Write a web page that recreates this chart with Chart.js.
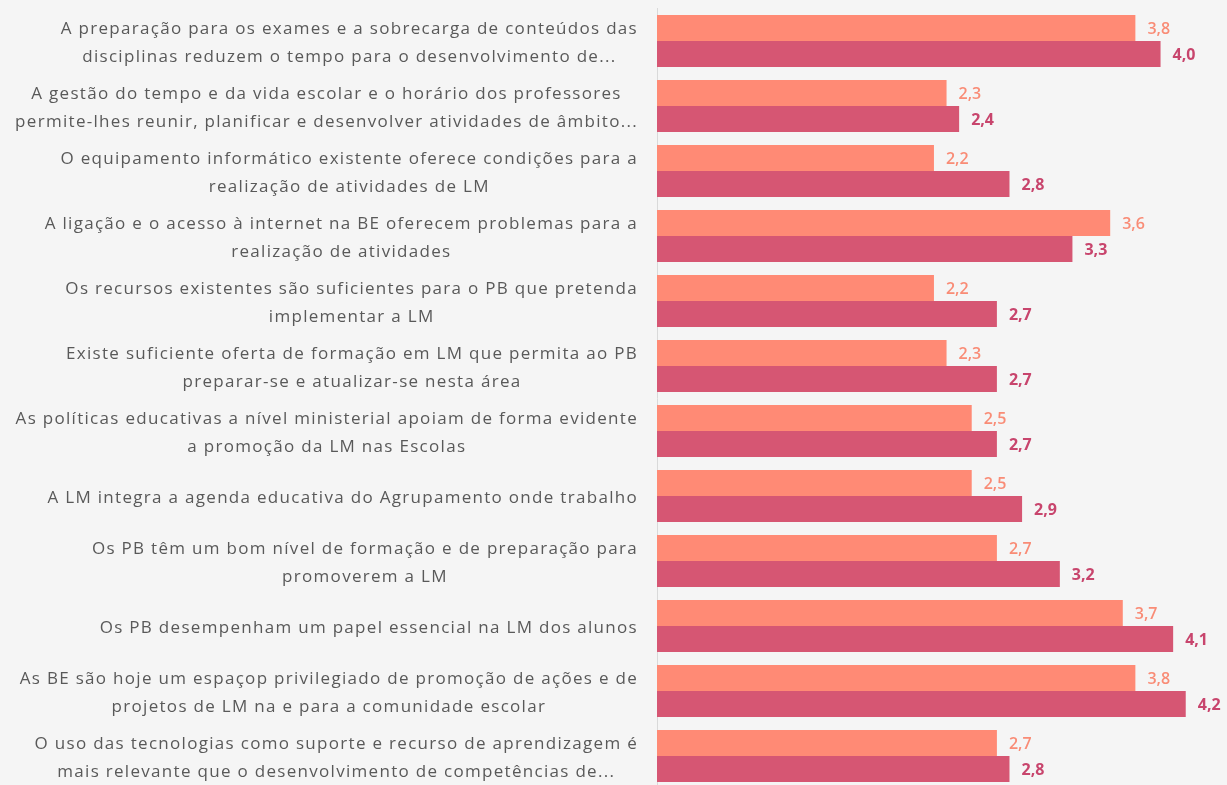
<!DOCTYPE html>
<html>
<head>
<meta charset="utf-8">
<script src="https://cdn.jsdelivr.net/npm/chart.js@4"></script>
<style>
    html, body { margin: 0; padding: 0; background: #f5f5f5; overflow: hidden; }
    #wrap { width: 1227px; height: 800px; position: relative; }
</style>
</head>
<body>
<div id="wrap"><canvas id="barChart"></canvas></div>
<script>
const categories = [
    ["A preparação para os exames e a sobrecarga de conteúdos das", "disciplinas reduzem o tempo para o desenvolvimento de..."],
    ["A gestão do tempo e da vida escolar e o horário dos professores", "permite-lhes reunir, planificar e desenvolver atividades de âmbito..."],
    ["O equipamento informático existente oferece condições para a", "realização de atividades de LM"],
    ["A ligação e o acesso à internet na BE oferecem problemas para a", "realização de atividades"],
    ["Os recursos existentes são suficientes para o PB que pretenda", "implementar a LM"],
    ["Existe suficiente oferta de formação em LM que permita ao PB", "preparar-se e atualizar-se nesta área"],
    ["As políticas educativas a nível ministerial apoiam de forma evidente", "a promoção da LM nas Escolas"],
    ["A LM integra a agenda educativa do Agrupamento onde trabalho"],
    ["Os PB têm um bom nível de formação e de preparação para", "promoverem a LM"],
    ["Os PB desempenham um papel essencial na LM dos alunos"],
    ["As BE são hoje um espaçop privilegiado de promoção de ações e de", "projetos de LM na e para a comunidade escolar"],
    ["O uso das tecnologias como suporte e recurso de aprendizagem é", "mais relevante que o desenvolvimento de competências de..."]
];
const series1 = [3.8, 2.3, 2.2, 3.6, 2.2, 2.3, 2.5, 2.5, 2.7, 3.7, 3.8, 2.7];
const series2 = [4.0, 2.4, 2.8, 3.3, 2.7, 2.7, 2.7, 2.9, 3.2, 4.1, 4.2, 2.8];

const colors = ['#ff8a75', '#d65673'];
const labelColors = ['#f98c76', '#c8456d'];

// category labels: each block right-aligned, lines centred inside it
const categoryLabels = {
    id: 'categoryLabels',
    afterDraw(chart) {
        const ctx = chart.ctx;
        const yScale = chart.scales.y;
        const rightEdge = 638;
        const lineGap = 28;
        ctx.save();
        ctx.font = '17px "Open Sans"';
        ctx.letterSpacing = '1.3px';
        ctx.fillStyle = '#595959';
        ctx.textAlign = 'center';
        ctx.textBaseline = 'middle';
        chart.data.labels.forEach((lines, i) => {
            const y = yScale.getPixelForTick(i) + 2;
            const widest = Math.max(...lines.map(l => ctx.measureText(l).width));
            const cx = rightEdge - widest / 2;
            lines.forEach((line, j) => {
                ctx.fillText(line, cx, y + (j - (lines.length - 1) / 2) * lineGap);
            });
        });
        ctx.restore();
    }
};

// values at the end of each bar
const valueLabels = {
    id: 'valueLabels',
    afterDatasetsDraw(chart) {
        const ctx = chart.ctx;
        ctx.save();
        ctx.textAlign = 'left';
        ctx.textBaseline = 'middle';
        chart.data.datasets.forEach((ds, d) => {
            const meta = chart.getDatasetMeta(d);
            ctx.font = (d === 1 ? 'bold ' : '600 ') + '16px "Open Sans"';
            ctx.fillStyle = labelColors[d];
            meta.data.forEach((bar, i) => {
                ctx.fillText(ds.data[i].toFixed(1).replace('.', ','), bar.x + 12, bar.y + 1);
            });
        });
        ctx.restore();
    }
};

new Chart(document.getElementById('barChart'), {
    type: 'bar',
    data: {
        labels: categories,
        datasets: [
            { label: 'Série 1', data: series1, backgroundColor: colors[0], categoryPercentage: 0.8, barPercentage: 1.0 },
            { label: 'Série 2', data: series2, backgroundColor: colors[1], categoryPercentage: 0.8, barPercentage: 1.0 }
        ]
    },
    options: {
        indexAxis: 'y',
        responsive: true,
        maintainAspectRatio: false,
        animation: false,
        layout: { padding: { left: 657, right: 3.5, top: 8.5, bottom: 11.5 } },
        scales: {
            x: { display: false, min: 0, max: 4.5 },
            y: {
                ticks: { display: false },
                grid: { display: false },
                border: { display: true, color: '#d9d9d9', width: 1 },
                afterFit(scale) { scale.width = 0; }
            }
        },
        plugins: { legend: { display: false }, tooltip: { enabled: false } }
    },
    plugins: [categoryLabels, valueLabels]
});
</script>
</body>
</html>
